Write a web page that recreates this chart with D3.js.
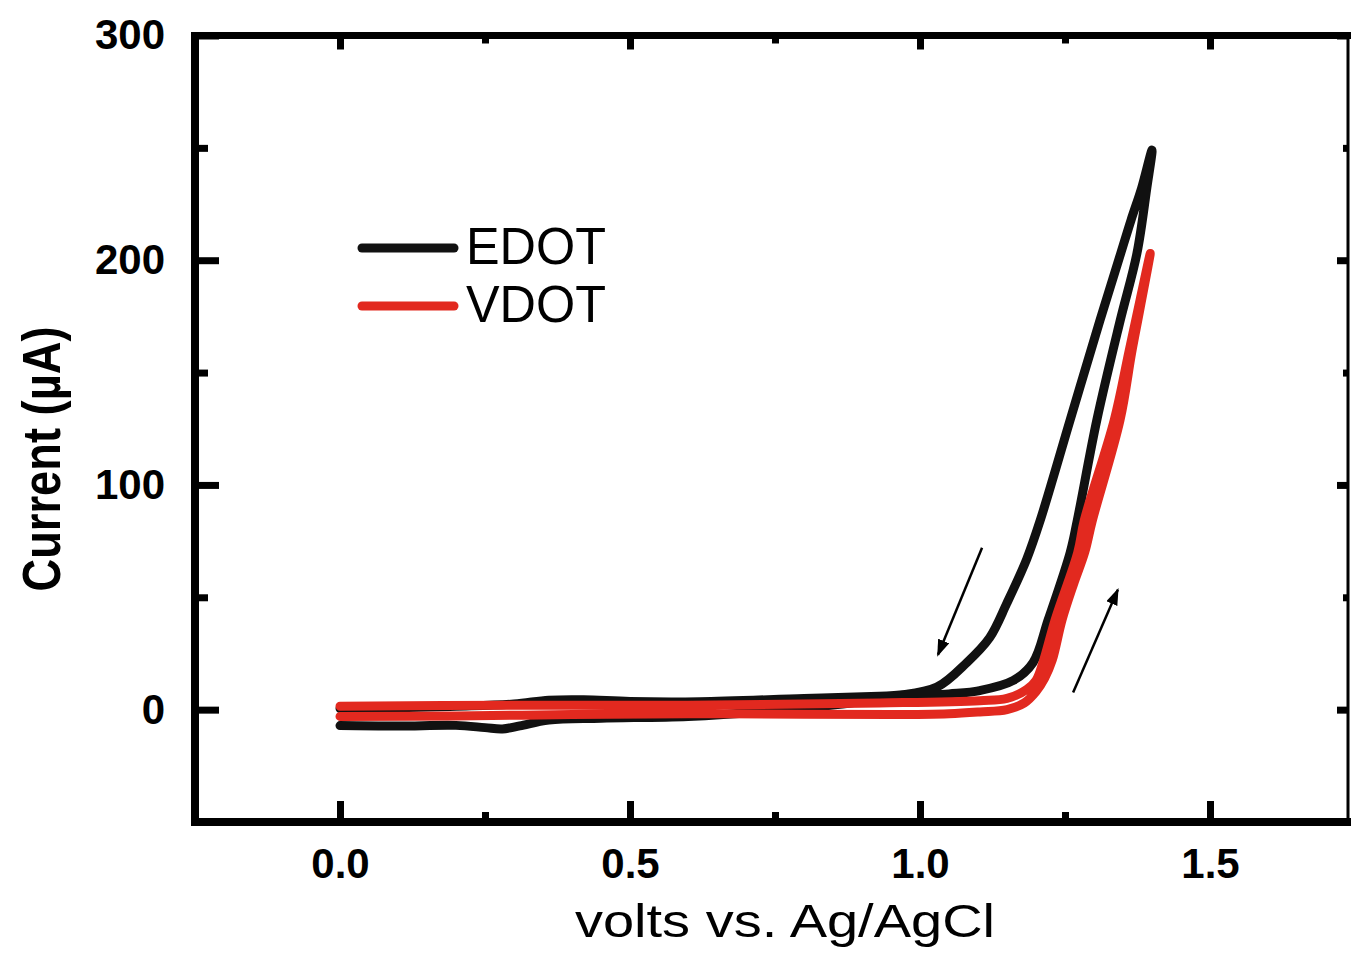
<!DOCTYPE html>
<html>
<head>
<meta charset="utf-8">
<script src="https://cdn.jsdelivr.net/npm/d3@7"></script>
<style>
  body { margin: 0; background: #fff; }
  svg { display: block; }
</style>
</head>
<body>
<div id="chart"></div>
<script>
// valores (volts vs. Ag/AgCl, corrente em µA)
// varredura de ida seguida da volta
const edotV = [0.00, 0.10, 0.20, 0.25, 0.28, 0.31, 0.36, 0.45, 0.60, 0.75, 0.85, 0.93, 1.00, 1.05, 1.103, 1.161, 1.195, 1.221, 1.259, 1.271, 1.305, 1.345, 1.374, 1.391, 1.40,
               1.382, 1.364, 1.346, 1.31, 1.259, 1.207, 1.184, 1.15, 1.12, 1.081, 1.029, 0.966, 0.93, 0.80, 0.62, 0.50, 0.42, 0.36, 0.30, 0.20, 0.10, 0.00];
const edotI = [-7.1, -7.3, -7.0, -8.0, -8.6, -7.2, -4.6, -3.8, -3.0, -0.5, 2.0, 4.5, 6.0, 7.0, 8.5, 13, 21, 40, 70, 84, 129, 173, 203, 232, 249,
               232, 218, 203, 173, 129, 84, 67, 47.5, 32, 21, 10, 6.5, 6.0, 5.0, 3.5, 3.6, 4.4, 4.2, 2.5, 1.5, 0.8, 0.5];

const vdotV = [0.00, 0.20, 0.40, 0.60, 0.80, 0.95, 1.05, 1.103, 1.15, 1.18, 1.20, 1.215, 1.228, 1.245, 1.265, 1.284, 1.297, 1.345, 1.365, 1.379, 1.397,
               1.38, 1.36, 1.335, 1.283, 1.272, 1.233, 1.212, 1.20, 1.184, 1.15, 1.103, 0.93, 0.60, 0.30, 0.00];
const vdotI = [-3.0, -2.8, -2.2, -1.8, -2.0, -2.2, -1.8, -1.0, 0.0, 3.0, 8.0, 14, 22, 40, 56, 70, 84, 129, 159, 178, 203,
               183, 159, 129, 84, 70, 40, 21, 13, 9, 5, 4, 3, 2, 2, 1.5];

const seriesNames = ["EDOT", "VDOT"];
const seriesColors = ["#111111", "#e2291f"];

const xMajor = [0, 0.5, 1.0, 1.5];
const xMinor = [-0.25, 0.25, 0.75, 1.25];
const yMajor = [0, 100, 200, 300];
const yMinor = [-50, 50, 150, 250];

// setas indicando o sentido da varredura: origem e ponta [V, µA]
const arrowFrom = [[1.107, 72], [1.264, 7.6]];
const arrowTo = [[1.031, 24.4], [1.341, 53.3]];

// dimensões
const W = 1351, H = 958;
const frameLeft = 195, frameRight = 1348, frameTop = 35.5, frameBottom = 822;

const svg = d3.select("#chart").append("svg")
    .attr("width", W)
    .attr("height", H);

const x = d3.scaleLinear().domain([-0.25, 1.75]).range([frameLeft, 1355]);
const y = d3.scaleLinear().domain([-50, 300]).range([frameBottom, frameTop]);

const font = "'Liberation Sans', Arial, Helvetica, sans-serif";

// eixos (ticks para dentro)
function styleAxis(g) {
    g.select(".domain").remove();
    g.selectAll(".tick line").attr("stroke", "#000").attr("stroke-width", 7);
    g.selectAll(".tick text")
        .attr("fill", "#000")
        .style("font-family", font)
        .style("font-weight", "bold")
        .style("font-size", "42px");
}

svg.append("g")
    .attr("transform", `translate(0,${frameBottom})`)
    .call(d3.axisBottom(x).tickValues(xMajor).tickSizeInner(-21).tickSizeOuter(0).tickPadding(26).tickFormat(d3.format(".1f")))
    .call(styleAxis);
svg.append("g")
    .attr("transform", `translate(0,${frameBottom})`)
    .call(d3.axisBottom(x).tickValues(xMinor).tickSizeInner(-10).tickSizeOuter(0).tickFormat(""))
    .call(styleAxis);

svg.append("g")
    .attr("transform", `translate(0,${frameTop})`)
    .call(d3.axisTop(x).tickValues(xMajor).tickSizeInner(-14).tickSizeOuter(0).tickFormat(""))
    .call(styleAxis);
svg.append("g")
    .attr("transform", `translate(0,${frameTop})`)
    .call(d3.axisTop(x).tickValues(xMinor.filter(d => d > -0.25)).tickSizeInner(-8).tickSizeOuter(0).tickFormat(""))
    .call(styleAxis);

svg.append("g")
    .attr("transform", `translate(${frameLeft},0)`)
    .call(d3.axisLeft(y).tickValues(yMajor).tickSizeInner(-24).tickSizeOuter(0).tickPadding(30).tickFormat(d3.format("d")))
    .call(styleAxis);
svg.append("g")
    .attr("transform", `translate(${frameLeft},0)`)
    .call(d3.axisLeft(y).tickValues(yMinor).tickSizeInner(-13).tickSizeOuter(0).tickFormat(""))
    .call(styleAxis);

svg.append("g")
    .attr("transform", `translate(${frameRight},0)`)
    .call(d3.axisRight(y).tickValues(yMajor).tickSizeInner(-11).tickSizeOuter(0).tickFormat(""))
    .call(styleAxis);
svg.append("g")
    .attr("transform", `translate(${frameRight},0)`)
    .call(d3.axisRight(y).tickValues(yMinor).tickSizeInner(-5).tickSizeOuter(0).tickFormat(""))
    .call(styleAxis);

// moldura
svg.append("line").attr("x1", frameLeft).attr("x2", frameLeft).attr("y1", frameTop - 3).attr("y2", frameBottom + 4)
    .attr("stroke", "#000").attr("stroke-width", 8);
svg.append("line").attr("x1", frameLeft - 4).attr("x2", W).attr("y1", frameTop).attr("y2", frameTop)
    .attr("stroke", "#000").attr("stroke-width", 7);
svg.append("line").attr("x1", frameLeft - 4).attr("x2", W).attr("y1", frameBottom).attr("y2", frameBottom)
    .attr("stroke", "#000").attr("stroke-width", 8);
svg.append("line").attr("x1", frameRight).attr("x2", frameRight).attr("y1", frameTop).attr("y2", frameBottom)
    .attr("stroke", "#000").attr("stroke-width", 3);

// curvas
const series = [
    {name: seriesNames[0], color: seriesColors[0], pts: edotV.map((v, i) => [v, edotI[i]])},
    {name: seriesNames[1], color: seriesColors[1], pts: vdotV.map((v, i) => [v, vdotI[i]])}
];

const line = d3.line()
    .x(d => x(d[0]))
    .y(d => y(d[1]))
    .curve(d3.curveCatmullRom.alpha(0.5));

svg.selectAll(".curve")
    .data(series)
    .enter()
    .append("path")
    .attr("class", "curve")
    .attr("fill", "none")
    .attr("stroke", d => d.color)
    .attr("stroke-width", 9)
    .attr("stroke-linecap", "round")
    .attr("stroke-linejoin", "round")
    .attr("d", d => line(d.pts));

// setas
svg.append("defs").append("marker")
    .attr("id", "head")
    .attr("viewBox", "0 0 17 12")
    .attr("refX", 15)
    .attr("refY", 6)
    .attr("markerWidth", 17)
    .attr("markerHeight", 12)
    .attr("markerUnits", "userSpaceOnUse")
    .attr("orient", "auto")
    .append("path")
    .attr("d", "M0,0 L17,6 L0,12 Z")
    .attr("fill", "#000");

svg.selectAll(".arrow")
    .data(arrowFrom)
    .enter()
    .append("line")
    .attr("class", "arrow")
    .attr("x1", d => x(d[0]))
    .attr("y1", d => y(d[1]))
    .attr("x2", (d, i) => x(arrowTo[i][0]))
    .attr("y2", (d, i) => y(arrowTo[i][1]))
    .attr("stroke", "#000")
    .attr("stroke-width", 2.5)
    .attr("marker-end", "url(#head)");

// legenda
const legend = svg.selectAll(".legend")
    .data(series)
    .enter()
    .append("g")
    .attr("class", "legend")
    .attr("transform", (d, i) => `translate(362,${248 + i * 58})`);

legend.append("line")
    .attr("x1", 0)
    .attr("x2", 92)
    .attr("stroke", d => d.color)
    .attr("stroke-width", 9)
    .attr("stroke-linecap", "round");

legend.append("text")
    .attr("x", 104)
    .attr("y", 16)
    .attr("textLength", 140)
    .attr("lengthAdjust", "spacingAndGlyphs")
    .style("font-family", font)
    .style("font-size", "52px")
    .style("fill", "#000")
    .text(d => d.name);

// rótulos dos eixos
svg.append("text")
    .attr("x", 785)
    .attr("y", 937)
    .attr("text-anchor", "middle")
    .attr("textLength", 420)
    .attr("lengthAdjust", "spacingAndGlyphs")
    .style("font-family", font)
    .style("font-size", "47px")
    .text("volts vs. Ag/AgCl");

svg.append("text")
    .attr("transform", "translate(60,459) rotate(-90)")
    .attr("text-anchor", "middle")
    .attr("textLength", 265)
    .attr("lengthAdjust", "spacingAndGlyphs")
    .style("font-family", font)
    .style("font-weight", "bold")
    .style("font-size", "54px")
    .text("Current (µA)");
</script>
</body>
</html>
